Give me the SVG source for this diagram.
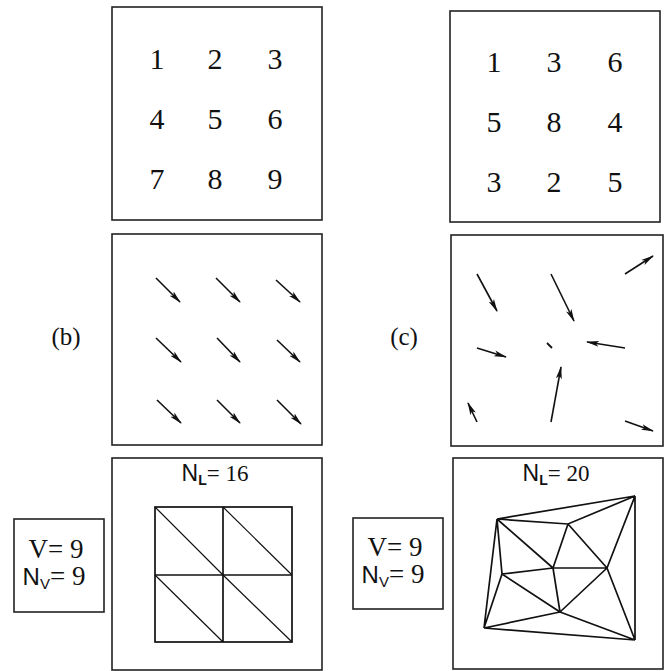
<svg xmlns="http://www.w3.org/2000/svg" width="670" height="671" viewBox="0 0 670 671">
<style>
.box{fill:none;stroke:#222;stroke-width:1.6}
.num{font-family:"Liberation Serif",serif;font-size:30px;fill:#111;text-anchor:middle}
.lab{font-family:"Liberation Serif",serif;font-size:25px;fill:#111;text-anchor:middle}
.ser{font-family:"Liberation Serif",serif}
.sans{font-family:"Liberation Sans",sans-serif}
.arr{stroke:#111;stroke-width:1.6;fill:none;marker-end:url(#ah)}
.mesh{stroke:#111;stroke-width:1.7;fill:none}
.diag{stroke:#111;stroke-width:1.2;fill:none}
</style>
<defs>
<marker id="ah" viewBox="0 0 13 7" refX="12" refY="3.5" markerWidth="13" markerHeight="7" markerUnits="userSpaceOnUse" orient="auto">
<path d="M0,0.5 L13,3.5 L0,6.5 L3,3.5 z" fill="#111"/>
</marker>
</defs>
<rect width="670" height="671" fill="#fff"/>

<g id="grid-b">
<rect class="box" x="112" y="7" width="210" height="213"/>
<text class="num" x="157" y="69">1</text>
<text class="num" x="215" y="69">2</text>
<text class="num" x="275" y="69">3</text>
<text class="num" x="157" y="129">4</text>
<text class="num" x="215" y="129">5</text>
<text class="num" x="275" y="129">6</text>
<text class="num" x="157" y="189">7</text>
<text class="num" x="215" y="189">8</text>
<text class="num" x="275" y="189">9</text>
</g>

<g id="grid-c">
<rect class="box" x="450" y="11" width="210" height="211"/>
<text class="num" x="494" y="72">1</text>
<text class="num" x="554" y="72">3</text>
<text class="num" x="615" y="72">6</text>
<text class="num" x="494" y="132">5</text>
<text class="num" x="554" y="132">8</text>
<text class="num" x="615" y="132">4</text>
<text class="num" x="494" y="192">3</text>
<text class="num" x="554" y="192">2</text>
<text class="num" x="615" y="192">5</text>
</g>

<g id="label-b"><text class="lab" x="66" y="345">(b)</text></g>
<g id="label-c"><text class="lab" x="404" y="345">(c)</text></g>

<g id="field-b">
<rect class="box" x="112" y="234" width="210" height="211"/>
<line class="arr" x1="156" y1="278" x2="180" y2="302"/>
<line class="arr" x1="216" y1="278" x2="240" y2="302"/>
<line class="arr" x1="276" y1="280" x2="300" y2="302"/>
<line class="arr" x1="156" y1="338" x2="181" y2="362"/>
<line class="arr" x1="217" y1="338" x2="240" y2="362"/>
<line class="arr" x1="277" y1="340" x2="300" y2="362"/>
<line class="arr" x1="157" y1="400" x2="181" y2="423"/>
<line class="arr" x1="217" y1="400" x2="240" y2="423"/>
<line class="arr" x1="277" y1="400" x2="301" y2="424"/>
</g>

<g id="field-c">
<rect class="box" x="451" y="235" width="212" height="211"/>
<line class="arr" x1="477" y1="274" x2="497" y2="311"/>
<line class="arr" x1="551" y1="274" x2="574" y2="321"/>
<line class="arr" x1="625" y1="274" x2="653" y2="256"/>
<line class="arr" x1="477" y1="348" x2="506" y2="357"/>
<line x1="547" y1="343" x2="552" y2="348" stroke="#111" stroke-width="1.8"/>
<line class="arr" x1="625" y1="348" x2="587" y2="342"/>
<line class="arr" x1="551" y1="422" x2="561" y2="367"/>
<line class="arr" x1="477" y1="422" x2="468" y2="403"/>
<line class="arr" x1="625" y1="421" x2="653" y2="431"/>
</g>

<g id="count-b">
<rect class="box" x="14" y="519" width="90" height="93"/>
<text x="56" y="558" text-anchor="middle" font-size="27" fill="#111"><tspan class="ser">V= 9</tspan></text>
<text x="54" y="585" text-anchor="middle" fill="#111"><tspan class="sans" font-size="24">N</tspan><tspan class="sans" font-size="15" dy="4">V</tspan><tspan class="ser" font-size="27" dy="-4">= 9</tspan></text>
</g>

<g id="mesh-b">
<rect class="box" x="112" y="458" width="210" height="212"/>
<text x="215" y="481" text-anchor="middle" fill="#111"><tspan class="sans" font-size="23">N</tspan><tspan class="sans" font-size="14" font-weight="bold" dy="4">L</tspan><tspan class="ser" font-size="23" dy="-4">= 16</tspan></text>
<rect class="mesh" x="155" y="507" width="137" height="135"/>
<line class="mesh" x1="223" y1="507" x2="223" y2="642"/>
<line class="mesh" x1="155" y1="575" x2="292" y2="575"/>
<line class="diag" x1="155" y1="507" x2="223" y2="575"/>
<line class="diag" x1="223" y1="507" x2="292" y2="575"/>
<line class="diag" x1="155" y1="575" x2="223" y2="642"/>
<line class="diag" x1="223" y1="575" x2="292" y2="642"/>
</g>

<g id="count-c">
<rect class="box" x="353" y="518" width="90" height="91"/>
<text x="395" y="556" text-anchor="middle" font-size="27" fill="#111"><tspan class="ser">V= 9</tspan></text>
<text x="393" y="583" text-anchor="middle" fill="#111"><tspan class="sans" font-size="24">N</tspan><tspan class="sans" font-size="15" dy="4">V</tspan><tspan class="ser" font-size="27" dy="-4">= 9</tspan></text>
</g>

<g id="mesh-c">
<rect class="box" x="453" y="458" width="210" height="211"/>
<text x="556" y="481" text-anchor="middle" fill="#111"><tspan class="sans" font-size="23">N</tspan><tspan class="sans" font-size="14" font-weight="bold" dy="4">L</tspan><tspan class="ser" font-size="23" dy="-4">= 20</tspan></text>
<path class="mesh" d="M497,519 L635,496 M497,519 L568,524 L635,496 M497,519 L553,568 M568,524 L553,568 M568,524 L607,568 M635,496 L607,568 M635,496 L635,640 M607,568 L635,640 M497,519 L502,574 M502,574 L553,568 L607,568 M497,519 L484,628 M502,574 L484,628 M502,574 L560,612 M553,568 L560,612 M607,568 L560,612 M560,612 L635,640 M484,628 L560,612 M484,628 L635,640"/>
</g>
</svg>
